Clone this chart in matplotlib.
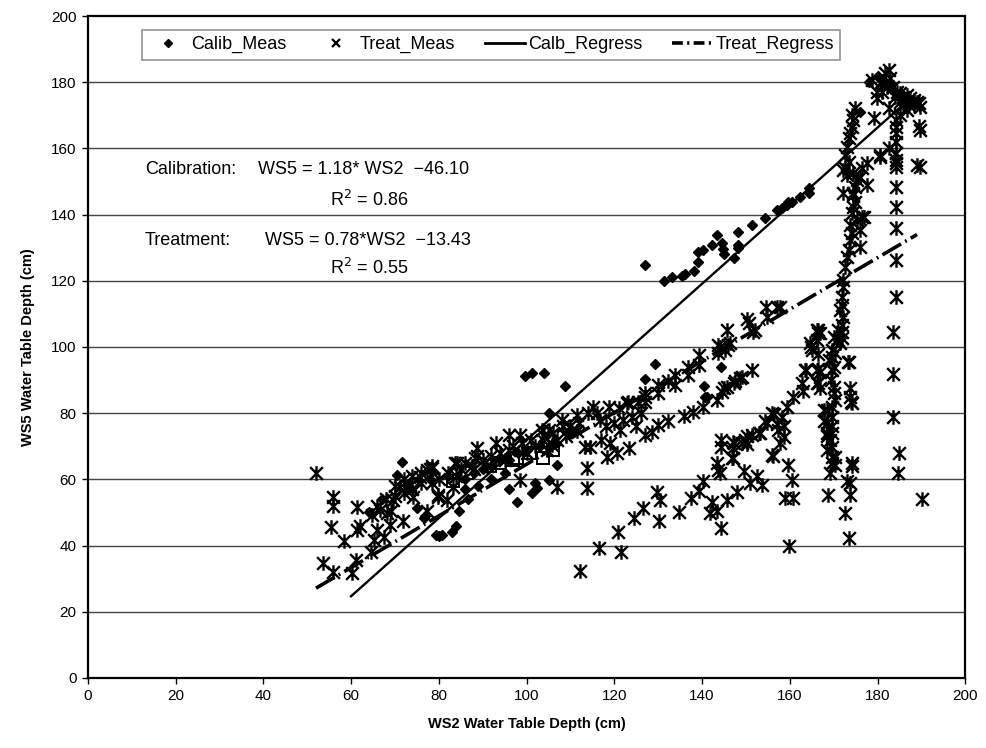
import matplotlib
matplotlib.use('Agg')
import matplotlib.pyplot as plt
from matplotlib.path import Path
from matplotlib.lines import Line2D
import numpy as np

plt.rcParams['font.family'] = ['Liberation Sans', 'DejaVu Sans']

# calibration measurements (WS2, WS5)
calib_x = [71.5, 70.5, 75, 76.6, 76.9, 79.3, 80, 80.8, 82.9, 83.9, 84.7, 86.7, 96.1, 97.8,
           101.2, 102, 102.3, 105.2, 107, 105.2, 108.8, 99.7, 101.3, 104, 129.3, 127, 144.4,
           140.5, 140.7, 141.2,
           127, 131.4, 133.1, 135.4, 136.1, 138.2, 139, 139, 140.3, 142.2, 143.4, 144.5, 144.8,
           145, 148.1, 148.1, 148.1, 147.2, 151.3, 154.4, 157, 158.2, 159.3, 160.5, 164.3,
           164.3, 162.4, 159.7,
           64, 67, 73, 78, 82, 86, 88, 90, 92, 94, 96, 98, 100, 103, 106, 110, 86, 89, 92, 95,
           178, 180, 181, 183, 185, 186, 187, 188, 176]
calib_y = [65.2, 61.4, 51.3, 48.3, 48.8, 43.2, 43, 43.3, 44.2, 45.9, 50.4, 54, 57, 53.3,
           56, 59, 57.5, 59.8, 64.4, 80.2, 88.2, 91.2, 92.2, 92.2, 95, 90.2, 94,
           88.2, 85, 85,
           124.8, 120, 121, 121.3, 122, 123, 125.8, 128.8, 129.3, 130.8, 133.8, 131.3, 129.5,
           128, 134.8, 130.9, 130, 127, 136.9, 138.9, 141.4, 141.9, 142.9, 143.9, 147.9,
           146.4, 145.2, 143.9,
           50, 54, 58, 60, 61, 60, 62, 63, 64, 66, 66, 68, 69, 70, 71, 74, 57, 58, 60, 62,
           180, 182, 181, 178, 176, 174, 175, 173, 171]

# treatment measurements (WS2, WS5)
treat_x = [52, 55.9, 55.9, 55.4, 53.7, 55.9, 61.3, 61.3, 62, 58.5, 61.1, 60.3, 64.5, 65.3, 66,
           67.5, 64.7, 66.6, 68.9, 71.8, 69.6, 71.2, 73.4, 75.7, 77.2, 74.2, 68.1, 69.2,
           66, 68, 70, 72, 74, 76, 70, 72, 74, 76, 78,
           78.4, 79.9, 81.8, 77.2, 84.1, 88.6, 88.6, 87.5, 93, 95.9, 98.5, 98.5, 106.9, 113.7,
           113.7, 115.2, 118.7, 121, 122.8, 125.5, 127, 127, 130, 130, 132.3, 111.4, 111.4,
           108.4, 105, 103.5, 116.8, 118, 121.3, 114.5, 113.4, 118.3, 120.5, 123.4, 127, 128.5,
           130, 132.3,
           120.9, 124.4, 126.5, 129.7, 130.4, 130.3, 116.4, 112.2, 121.6, 134.8, 137.4, 139.2,
           140.3, 142.2, 141.7, 143.4, 144.3, 143.7, 144, 143.5, 144.3, 144.3, 147.2, 146.8,
           145.8, 147.9, 149.6, 151, 152.5, 153.6, 156.1, 149.8, 150.3, 150.2, 153.2, 154.8,
           156.3,
           135.8, 137.9, 140.2, 143.5, 145, 147.5, 149, 151.3,
           123.2, 127, 133.9, 133.9, 136.7, 136.7, 139.4, 139.4, 143.7, 143.7, 145.6, 146,
           150.2, 150.6, 152.1, 154.6, 154.8, 157, 157.8, 151.7, 144.1, 145.3, 146.4, 148.7,
           147.2, 145.6, 144.5,
           147, 147, 147, 149, 151.3, 152.9, 154.4, 156, 156, 157, 157.4, 158.6, 158.6, 157.8,
           158.2, 159.3, 160.8, 163.1, 162.7, 163.7, 164.8, 166.5, 166.5, 166.5, 166.5, 166.9,
           169.6, 169.4, 170, 170, 170.4, 167.7, 167.8, 168.4, 169.2, 169.6, 170.4, 170.4,
           169.2, 168.8, 173, 173.8, 173.8, 172.6, 173.6, 174.2, 173.8, 173.8, 174.2, 173.2,
           170.9, 170.7, 170.4, 170, 169, 166.1, 166.5, 159.9, 158.9, 160.8, 159.6, 160.5,
           190.1,
           183.6, 183.6, 183.5, 185, 184.6,
           184.2, 184.2, 184.2, 184.2, 184.2, 184.2,
           189.4, 189.7, 189, 189.7,
           174.9, 174.2, 174.5, 174.2, 173.8, 173.4, 173, 172.6, 173.4, 172.6, 173, 172.2,
           174.5, 175.3, 174.9, 174.5, 174.9, 174.5, 174.2, 176.8, 176.1, 175.3, 173.8, 174.2,
           176.1, 173.8, 173.4, 173, 172.6, 172.2, 172.2, 171.9, 171.9, 171.5, 172.2, 171.9,
           171.9, 172, 171.5, 177.6, 176.4, 176.1, 177.6,
           169.6, 169.6, 169.6, 169.6, 169.6, 169.6, 169.6, 169.6, 168.4, 168.4, 168.4, 168.4,
           164.6, 165, 163.5, 166.2, 166.9, 166.2, 173.4, 173.9, 174.2, 166.9, 166.2, 170,
           171.1,
           184.3, 184.3, 184.3, 184.3, 184.3, 184.3, 184.3, 182.5, 180.6, 179.1, 179.9, 182.5,
           178.7, 180.6, 181.8, 182.5, 182.9, 182.1, 181, 183.6, 184.4, 185.2, 185.9, 186.7,
           187.5, 188.2, 189, 185.2, 185.9, 187.1, 188.2, 189.4, 189.7, 186.7, 185.2, 184,
           179.9,
           180.6, 172.2, 174.5, 176.4,
           80, 82, 84, 85, 86, 88, 90, 91, 92, 94, 95, 96, 97, 99, 100, 101, 102, 104, 106,
           107, 108, 109, 110, 112, 114, 116, 117, 119, 120, 122, 124, 125, 126,
           103.8, 104.6, 105.7, 83.7, 88.3, 79.9, 78.4, 78.4, 83.3]
treat_y = [62, 54.6, 52, 45.7, 34.6, 32.1, 51.8, 44.7, 46, 41.4, 35.6, 31.8, 38.2, 41.7, 44.7,
           42.7, 49.2, 50.8, 46.2, 47.3, 53.8, 57.8, 58.3, 60.8, 62.8, 54.8, 49.7, 50.5,
           52, 54, 55, 56, 57, 59, 58, 60, 61, 62, 63,
           63.9, 54.8, 53.8, 50.3, 64.9, 69.4, 67, 64, 70.9, 73.4, 73.4, 59.8, 57.8, 63.4,
           57.3, 82, 82, 81.5, 83, 83.5, 85, 83.5, 88.5, 86, 89.6, 79.5, 74.5,
           76, 75, 74.9, 77.9, 76, 74.9, 69.9, 69.9, 66.9, 67.9, 69.4, 73.4, 74.3,
           76.4, 77.5,
           44.2, 48.2, 51.5, 56.3, 53.8, 47.3, 39.2, 32.4, 38.2, 50, 54.3, 56.6,
           59.4, 53.3, 49.7, 50.3, 45.2, 62.8, 62, 64.9, 69.9, 72, 70.9, 66.4,
           53.8, 56.3, 62.6, 59, 61, 58.3, 67.1, 71.9, 73, 70.6, 73.9, 76.9,
           79.9,
           79.2, 80.5, 82, 84, 87.5, 89.6, 90.9, 93.1,
           83.5, 86, 91.5, 88.5, 94, 91.5, 97.6, 94.6, 100.6, 98.1, 105.1, 100.6,
           108.6, 107.2, 105.1, 112.2, 109, 112.2, 112.2, 104.6, 100.1, 99.1, 101.1, 90.5,
           89, 88, 86.5,
           71.4, 69.4, 66.4, 71.1, 73.4, 73.9, 77.5, 80, 67.4, 76.7, 75, 72.9, 76, 70.9,
           79, 81.8, 85, 86.6, 89.1, 93.1, 100.1, 104.1, 105.1, 93.3, 89.1, 87.5,
           93.1, 90, 88, 86, 84, 81, 77.5, 73.9, 71.9, 69.9, 66.9, 64.4,
           61.8, 55.3, 59.4, 58.8, 55.3, 49.7, 42.4, 63.9, 87.5, 85, 83, 95.6,
           105.1, 102.1, 98.1, 94, 96, 102, 98, 39.9, 54.3, 54.3, 64.4, 59.8,
           54,
           104.6, 91.8, 79, 68, 62,
           155.5, 148.4, 142.4, 135.9, 126.3, 115.2,
           166.8, 165.6, 155, 154.5,
           172.1, 170.1, 168.6, 166.6, 164.6, 163, 160.5, 158, 156, 154, 152, 146.4,
           152.5, 150.5, 148.4, 145.9, 143.9, 142.4, 140.4, 139.4, 135.3, 138.4, 136.9, 134.3,
           130.3, 132.3, 129.3, 127.3, 124.3, 120.2, 118.2, 115.2, 112.7, 111.2, 109.2, 106.6,
           104.6, 102.6, 101.1, 155.5, 154, 151.5, 149,
           99.1, 97.1, 82, 79, 76, 73.9, 66.9, 64.9, 81, 69, 77, 73,
           101.1, 99.1, 93.1, 93.1, 92.5, 89, 95.6, 83.5, 64.9, 104.1, 105.1, 103.1,
           102.1,
           168.6, 166.6, 164.6, 162, 158.5, 156.5, 154.5, 160, 157.5, 169.1, 175.1, 172.1,
           180.7, 179.7, 182.7, 183.7, 181.2, 178.6, 177.1, 178.6, 177.1, 176.6, 175.6, 176.1,
           175.1, 174.6, 174.1, 174.1, 173.1, 173.6, 173.1, 173.6, 172.6, 171.6, 170.1, 175.6,
           177.1,
           158, 153.5, 146.4, 139.4,
           60, 62, 61, 63, 65, 63, 66, 64, 67, 68, 66, 69, 70, 71, 68, 72, 70, 73, 74,
           72, 78, 73, 76, 77, 80, 80, 72, 71, 77, 78, 79, 76, 80,
           71.9, 68.9, 70.4, 64.9, 66.4, 55.3, 63.4, 58.8, 57.8]

# open squares in the dense band
square_x = [83.3, 86.4, 91.7, 94, 97, 97.8, 100.8, 103.8, 106.1]
square_y = [59.5, 61.8, 64, 64.9, 65.9, 66.4, 67.9, 66.6, 68.9]

# regression fits
calib_slope, calib_icept, calib_range = 1.18, -46.10, (60, 185)
treat_slope, treat_icept, treat_range = 0.78, -13.43, (52, 189)

xticks = list(range(0, 201, 20))
yticks = list(range(0, 201, 20))

star = Path([(-1, -1), (1, 1), (-1, 1), (1, -1), (0, -1.15), (0, 1.15)],
            [Path.MOVETO, Path.LINETO, Path.MOVETO, Path.LINETO, Path.MOVETO, Path.LINETO])

fig = plt.figure(figsize=(9.87, 7.48), dpi=100)
ax = fig.add_axes([0.089, 0.0936, 0.889, 0.885])

for yt in yticks[1:-1]:
    ax.axhline(yt, color='#444444', lw=1.0, zorder=0)

ax.plot(square_x, square_y, ls='none', marker='s', ms=9, mfc='none', mec='black', mew=1.4, zorder=2)
ax.plot(calib_x, calib_y, ls='none', marker='D', ms=5.6, color='black', zorder=3)
ax.plot(treat_x, treat_y, ls='none', marker=star, ms=10.5, mec='black', mew=1.7, zorder=3)

treat_dash = (6, 1.3, 0.5, 1.3)
xc = np.array(calib_range)
ax.plot(xc, calib_slope * xc + calib_icept, color='black', lw=1.7, zorder=4)
xt = np.array(treat_range)
ax.plot(xt, treat_slope * xt + treat_icept, color='black', lw=2.6,
        dashes=treat_dash, zorder=4)

ax.set_xlim(0, 200)
ax.set_ylim(0, 200)
ax.set_xticks(xticks)
ax.set_yticks(yticks)
ax.tick_params(direction='out', length=4, width=1, labelsize=11, pad=4)
for s in ax.spines.values():
    s.set_linewidth(1.6)

ax.set_xlabel('WS2 Water Table Depth (cm)', fontsize=10.5, fontweight='bold', labelpad=10)
ax.set_ylabel('WS5 Water Table Depth (cm)', fontsize=10.5, fontweight='bold', labelpad=12)

fs = 13
ax.text(13, 153.5, 'Calibration:', fontsize=fs, va='center')
ax.text(38.8, 153.5, 'WS5 = 1.18* WS2  \u221246.10', fontsize=fs, va='center')
ax.text(55.2, 144.4, 'R$^2$ = 0.86', fontsize=fs, va='center')
ax.text(13, 132.3, 'Treatment:', fontsize=fs, va='center')
ax.text(40.4, 132.3, 'WS5 = 0.78*WS2  \u221213.43', fontsize=fs, va='center')
ax.text(55.2, 123.9, 'R$^2$ = 0.55', fontsize=fs, va='center')

handles = [
    Line2D([], [], ls='none', marker='D', ms=4.5, color='black'),
    Line2D([], [], ls='none', marker='x', ms=5.5, mec='black', mew=1.6),
    Line2D([], [], color='black', lw=2),
    Line2D([], [], color='black', lw=2.6, dashes=(3, 1.2, 0.6, 1.2)),
]
labels = ['Calib_Meas', 'Treat_Meas', 'Calb_Regress', 'Treat_Regress']
leg = ax.legend(handles, labels, ncol=4, loc='upper left',
                bbox_to_anchor=(0.0616, 0.923, 0.796, 0.056), mode='expand',
                frameon=True, fancybox=False, fontsize=13, handlelength=2.2,
                borderaxespad=0, columnspacing=0.8, handletextpad=0.2, borderpad=0.35)
leg.get_frame().set_edgecolor('#777777')
leg.get_frame().set_linewidth(1.2)

fig.savefig('out.png', dpi=100)
